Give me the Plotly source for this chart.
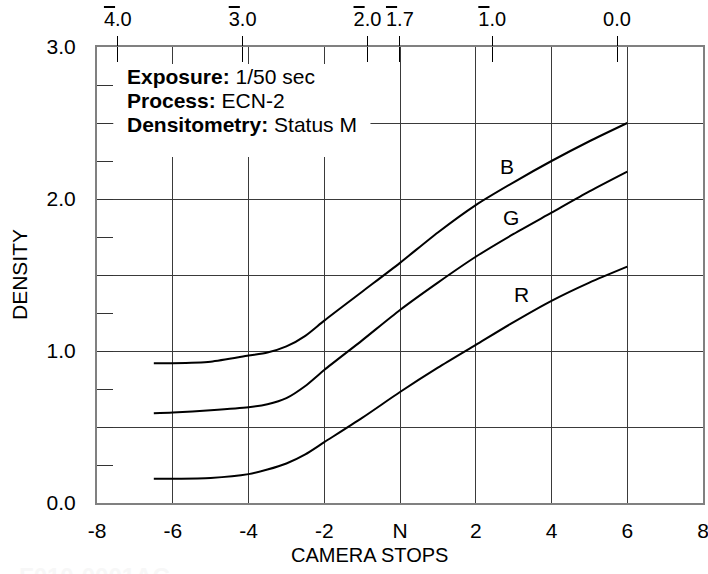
import plotly.graph_objects as go

# ---- data ----
stops = [-6.5, -6, -5, -4, -3.5, -3, -2.5, -2, -1, 0, 1, 2, 3, 4, 5, 6]
blue_density = [0.92, 0.92, 0.93, 0.97, 0.99, 1.03, 1.10, 1.20, 1.39, 1.58, 1.78, 1.96, 2.11, 2.25, 2.38, 2.50]
green_density = [0.59, 0.595, 0.61, 0.63, 0.65, 0.69, 0.77, 0.875, 1.07, 1.27, 1.45, 1.62, 1.77, 1.91, 2.05, 2.18]
red_density = [0.16, 0.16, 0.165, 0.19, 0.22, 0.26, 0.32, 0.40, 0.56, 0.73, 0.89, 1.04, 1.19, 1.33, 1.45, 1.555]

curve_names = ["B", "G", "R"]
label_x = [2.83, 2.94, 3.2]
label_y = [2.213, 1.879, 1.37]

x_ticks = [-8, -6, -4, -2, 0, 2, 4, 6, 8]
x_ticktext = ["-8", "-6", "-4", "-2", "N", "2", "4", "6", "8"]
y_ticks = [0, 1, 2, 3]
y_ticktext = ["0.0", "1.0", "2.0", "3.0"]

# top axis: log exposure
log_range = [-4.167, 0.689]
log_ticks = [-4, -3, -2, -1.74, -1, 0]
bar = lambda d, rest: f"<span style='text-decoration:overline'>{d}</span>{rest}"
log_ticktext = [bar("4", ".0"), bar("3", ".0"), bar("2", ".0"), bar("1", ".7"), bar("1", ".0"), "0.0"]

info_labels = ["Exposure:", "Process:", "Densitometry:"]
info_values = ["1/50 sec", "ECN-2", "Status M"]

FONT = "Liberation Sans, Arial, sans-serif"
GRID = "#3a3a3a"
FRAME = "#808080"

fig = go.Figure()
for name, dens in zip(curve_names, [blue_density, green_density, red_density]):
    fig.add_trace(go.Scatter(x=stops, y=dens, mode="lines", name=name,
                             line=dict(color="black", width=2, shape="spline", smoothing=0.7),
                             showlegend=False, hoverinfo="skip"))

# dummy traces to register the overlaid axes
fig.add_trace(go.Scatter(x=[None], y=[None], xaxis="x2", yaxis="y", showlegend=False))
fig.add_trace(go.Scatter(x=[None], y=[None], xaxis="x3", yaxis="y", showlegend=False))
fig.add_trace(go.Scatter(x=[None], y=[None], xaxis="x", yaxis="y2", showlegend=False))

for n, lx, ly in zip(curve_names, label_x, label_y):
    fig.add_annotation(x=lx, y=ly, text=n, showarrow=False,
                       font=dict(family=FONT, size=21, color="black"))

# white info box
fig.add_shape(type="rect", xref="x", yref="y", x0=-7.57, x1=-0.78, y0=2.277, y1=2.888,
              fillcolor="white", line=dict(width=0), layer="above")
for i, (lab, val) in enumerate(zip(info_labels, info_values)):
    fig.add_annotation(x=-7.26, y=2.809 - i * 0.158, xref="x", yref="y",
                       xanchor="left", yanchor="middle", showarrow=False,
                       text=f"<b>{lab}</b> {val}",
                       font=dict(family=FONT, size=21, color="black"))

# axis titles
fig.add_annotation(x=-0.8, y=0, xref="x", yref="paper", yshift=-52, yanchor="middle",
                   text="CAMERA STOPS", showarrow=False,
                   font=dict(family=FONT, size=20, color="black"))
fig.add_annotation(x=0, y=1.5, xref="paper", yref="y", xshift=-78, xanchor="center",
                   text="DENSITY", textangle=-90, showarrow=False,
                   font=dict(family=FONT, size=21, color="black"))

fig.add_annotation(x=0.0, y=0.0, xref="paper", yref="paper", xshift=-80, yshift=-58,
                   xanchor="left", yanchor="top", text="<b>F010-0001AC</b>", showarrow=False,
                   font=dict(family=FONT, size=24, color="#f7f7f7"))

fig.update_layout(
    width=708, height=574,
    margin=dict(l=97, r=5, t=47, b=71, autoexpand=False),
    paper_bgcolor="white", plot_bgcolor="white",
    font=dict(family=FONT, size=21, color="black"),
    xaxis=dict(range=[-8, 8], tickvals=x_ticks, ticktext=x_ticktext, automargin=False,
               showgrid=True, gridcolor=GRID, gridwidth=1, ticklabeloverflow="allow",
               showline=True, linecolor=FRAME, linewidth=2, mirror=True,
               ticks="", ticklabelstandoff=8, zeroline=False),
    xaxis2=dict(range=log_range, overlaying="x", side="top", tickvals=log_ticks, automargin=False,
                ticktext=log_ticktext, ticks="outside", ticklen=10, tickcolor="black",
                tickwidth=1, showgrid=False, zeroline=False, showline=False,
                ticklabelstandoff=2, tickfont=dict(size=20), ticklabeloverflow="allow"),
    xaxis3=dict(range=log_range, overlaying="x", side="top", tickvals=log_ticks, automargin=False,
                showticklabels=False, ticks="inside", ticklen=15, tickcolor="black",
                tickwidth=1, showgrid=False, zeroline=False, showline=False),
    yaxis=dict(range=[0, 3], tickvals=y_ticks, ticktext=y_ticktext, automargin=False,
               showgrid=True, gridcolor=GRID, gridwidth=1,
               minor=dict(dtick=0.5, showgrid=True, gridcolor=GRID, gridwidth=1, ticks=""),
               showline=True, linecolor=FRAME, linewidth=2, mirror=True,
               ticks="", ticklabelstandoff=15, zeroline=False),
    yaxis2=dict(range=[0, 3], overlaying="y", side="left", dtick=0.25, tick0=0, automargin=False,
                showticklabels=False, ticks="inside", ticklen=16, tickcolor="#333",
                tickwidth=1, showgrid=False, zeroline=False, showline=False),
)

fig.write_html("out.html", config={"displayModeBar": False},
               post_script="document.body.style.margin='0';document.body.style.overflow='hidden';")
